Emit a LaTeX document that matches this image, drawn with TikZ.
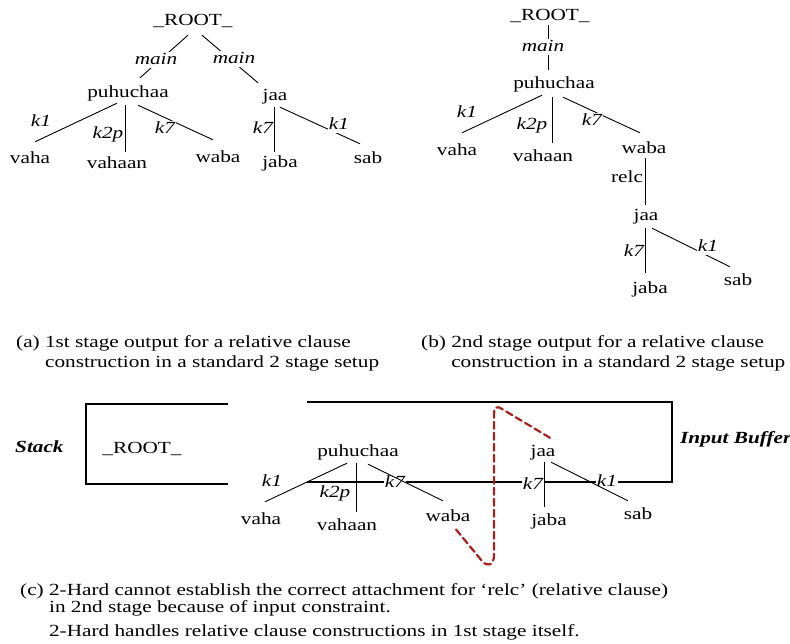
\documentclass[tikz,border=0pt]{standalone}
\usepackage{fontspec}
\setmainfont[FakeStretch=1.25]{Liberation Serif}
\definecolor{relcred}{RGB}{168,32,28}

\begin{document}
\begin{tikzpicture}[
x=1pt, y=-1pt,
every node/.style={
    inner sep=1pt,
    font=\fontsize{17}{20}\selectfont
},
word/.style={text height=12pt, text depth=4pt},
rel/.style={fill=white, text height=11pt, text depth=3pt, font=\fontsize{17}{20}\selectfont\itshape},
relup/.style={fill=white, text height=11pt, text depth=3pt},
captext/.style={anchor=north west, align=left, inner sep=0pt},
tagtext/.style={anchor=base west, inner sep=0pt, font=\fontsize{17}{20}\selectfont\bfseries\itshape},
dep/.style={line width=0.9pt},
buffer/.style={line width=1.2pt},
relcmove/.style={draw=relcred, line width=2.2pt, dash pattern=on 7pt off 4pt, line cap=round}
]
\fill[white] (0,0) rectangle (790,643);
\useasboundingbox (0,0) rectangle (790,643);

%---------------- (a) 1st stage ----------------
\begin{scope}
\node[word] (r) at (193,21) {\_ROOT\_};
\node[word] (p) at (128,93) {puhuchaa};
\node[word] (j) at (275,96) {jaa};
\node[word] (v) at (30,159) {vaha};
\node[word] (vn) at (117,164) {vahaan};
\node[word] (w) at (218,158) {waba};
\node[word] (jb) at (280,163) {jaba};
\node[word] (s) at (368,159) {sab};

\draw[dep] ([xshift=-5pt,yshift=-5pt]r.south) -- ([xshift=12pt,yshift=6pt]p.north);
\draw[dep] ([xshift=9pt,yshift=-5pt]r.south) -- ([xshift=-17pt,yshift=4pt]j.north);
\draw[dep] ([xshift=-11pt,yshift=-1pt]p.south) -- ([xshift=5pt,yshift=8pt]v.north);
\draw[dep] ([xshift=-3pt,yshift=-3pt]p.south) -- ([xshift=8pt,yshift=3pt]vn.north);
\draw[dep] ([xshift=10pt,yshift=-3pt]p.south) -- ([xshift=-5pt,yshift=9pt]w.north);
\draw[dep] ([xshift=-1pt,yshift=-2pt]j.south) -- ([xshift=-6pt,yshift=2pt]jb.north);
\draw[dep] ([xshift=5pt,yshift=-2pt]j.south) -- ([xshift=-8pt,yshift=6pt]s.north);

\node[rel] (l1) at (156,60) {main};
\node[rel] (l2) at (234,59) {main};
\node[rel] (l3) at (41,122) {k1};
\node[rel] (l4) at (108,134) {k2p};
\node[rel] (l5) at (165,129) {k7};
\node[rel] (l6) at (263,129) {k7};
\node[rel] (l7) at (339,125) {k1};

\node[captext] (capa) at (16,335) {(a) 1st stage output for a relative clause\\
\phantom{(a)}\ construction in a standard 2 stage setup};
\end{scope}

%---------------- (b) 2nd stage ----------------
\begin{scope}
\node[word] (r) at (550,16) {\_ROOT\_};
\node[word] (p) at (554,84) {puhuchaa};
\node[word] (v) at (457,151) {vaha};
\node[word] (vn) at (543,157) {vahaan};
\node[word] (w) at (644,149) {waba};
\node[word] (j) at (646,216) {jaa};
\node[word] (jb) at (650,289) {jaba};
\node[word] (s) at (738,281) {sab};

\draw[dep] ([xshift=-2pt]r.south) -- ([xshift=-6pt,yshift=5pt]p.north);
\draw[dep] ([xshift=-12pt,yshift=-2pt]p.south) -- ([xshift=5pt,yshift=9pt]v.north);
\draw[dep] ([xshift=-2pt,yshift=-4pt]p.south) -- ([xshift=9pt,yshift=5pt]vn.north);
\draw[dep] ([xshift=9pt,yshift=-4pt]p.south) -- ([xshift=-4pt,yshift=7pt]w.north);
\draw[dep] ([xshift=1pt]w.south) -- ([xshift=-1pt,yshift=2pt]j.north);
\draw[dep] ([xshift=-1pt,yshift=-3pt]j.south) -- ([xshift=-5pt,yshift=7pt]jb.north);
\draw[dep] ([xshift=6pt,yshift=-3pt]j.south) -- ([xshift=-8pt,yshift=5pt]s.north);

\node[rel] (l1) at (543,47) {main};
\node[rel] (l2) at (467,113) {k1};
\node[rel] (l3) at (532,125) {k2p};
\node[rel] (l4) at (592,121) {k7};
\node[relup] (l5) at (627,178) {relc};
\node[rel] (l6) at (634,252) {k7};
\node[rel] (l7) at (708,247) {k1};

\node[captext] (capb) at (421,335) {(b) 2nd stage output for a relative clause\\
\phantom{(b)}\ construction in a standard 2 stage setup};
\end{scope}

%---------------- (c) 2-Hard ----------------
\begin{scope}
\node[tagtext] (stk) at (15,452) {Stack};
\node[tagtext] (inb) at (680,443) {Input Buffer};

\node[word] (r) at (142,449) {\_ROOT\_};
\node[word] (p) at (358,452) {puhuchaa};
\node[word] (j) at (543,452) {jaa};
\node[word] (v) at (261,520) {vaha};
\node[word] (vn) at (347,526) {vahaan};
\node[word] (w) at (448,517) {waba};
\node[word] (jb) at (549,521) {jaba};
\node[word] (s) at (638,515) {sab};

\draw[buffer] (228,404) -- (86,404) -- (86,484) -- (228,484);
\draw[buffer] (307,402) -- (672,402) -- (672,482) -- (307,482);

\node[rel] (l1) at (272,482) {k1};
\node[rel] (l2) at (335,493) {k2p};
\node[rel] (l3) at (395,483) {k7};
\node[rel] (l4) at (533,485) {k7};
\node[rel] (l5) at (607,482) {k1};

\draw[dep] ([xshift=-11pt,yshift=-2pt]p.south) -- ([xshift=4pt,yshift=9pt]v.north);
\draw[dep] ([xshift=-2pt,yshift=-2pt]p.south) -- ([xshift=9pt,yshift=5pt]vn.north);
\draw[dep] ([xshift=10pt,yshift=-3pt]p.south) -- ([xshift=-5pt,yshift=7pt]w.north);
\draw[dep] ([xshift=1pt,yshift=-1pt]j.south) -- ([xshift=-5pt,yshift=5pt]jb.north);
\draw[dep] ([xshift=8pt,yshift=-1pt]j.south) -- ([xshift=-10pt,yshift=5pt]s.north);

% relc cannot be attached across the buffer
\draw[relcmove] ([xshift=7pt,yshift=5pt]j.north) -- (502,409)
  .. controls (496,405) and (494,408) .. (494,414) -- (494,555)
  .. controls (494,566) and (487,567) .. (482,561)
  -- ([xshift=7pt,yshift=-2pt]w.south);

\node[captext, font=\fontsize{17}{17}\selectfont] (capc) at (20,583) {(c) 2-Hard cannot establish the correct attachment for ‘relc’ (relative clause)\\
\phantom{(c)}\ in 2nd stage because of input constraint.\\[7pt]
\phantom{(c)}\ 2-Hard handles relative clause constructions in 1st stage itself.};
\end{scope}

\end{tikzpicture}
\end{document}
